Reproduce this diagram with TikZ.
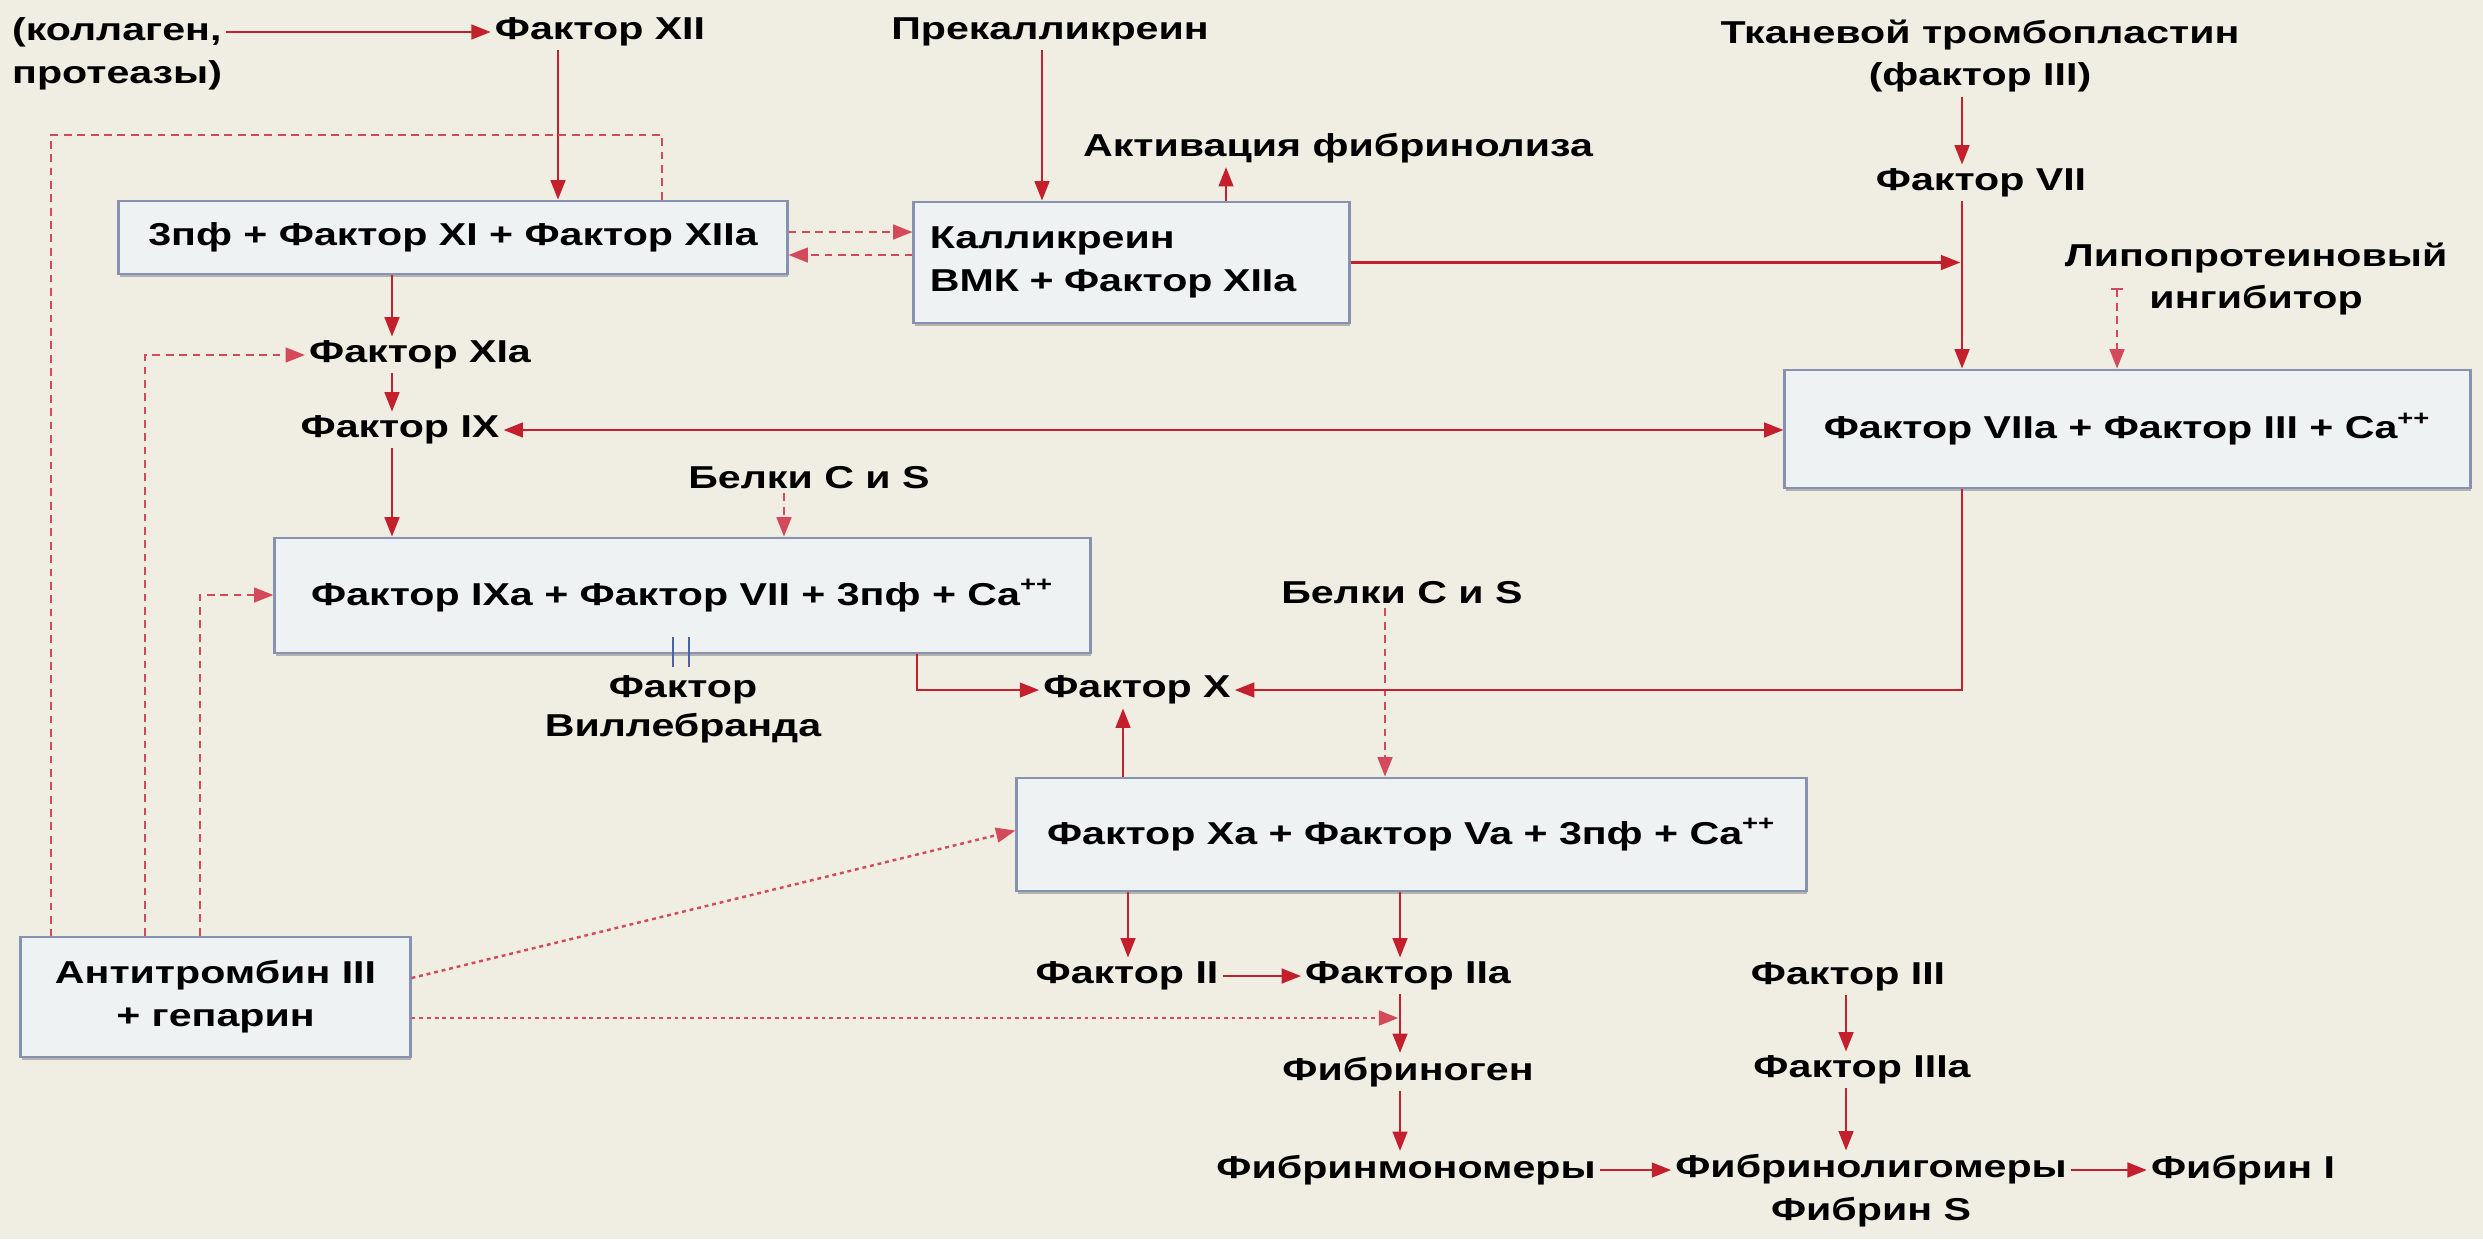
\documentclass[tikz,border=0pt]{standalone}
\usepackage{fontspec}
\setmainfont{Liberation Sans}[FakeStretch=1.3]
\usetikzlibrary{arrows.meta,shadows}
\definecolor{bg}{HTML}{F0EEE2}
\definecolor{rd}{HTML}{C41F2C}
\definecolor{dr}{HTML}{D44A5A}
\definecolor{bc}{HTML}{8792B3}
\definecolor{bf}{HTML}{EEF2F3}
\definecolor{vwb}{HTML}{4A63A8}
\begin{document}
\begin{tikzpicture}[x=0.01cm,y=-0.01cm,
  font=\fontsize{9pt}{12.2pt}\selectfont\bfseries,
  lbl/.style={inner sep=1pt, align=center, text=black},
  bx/.style={draw=bc, fill=bf, line width=0.8pt, inner sep=0pt, align=center,
    drop shadow={shadow xshift=0.3pt, shadow yshift=-0.9pt, fill=black!40, opacity=0.7}},
  tip/.style={-{Triangle[length=5.5pt,width=4.2pt]}},
  arr/.style={draw=rd, line width=0.6pt, tip},
  dsh/.style={draw=dr, line width=0.6pt, dash pattern=on 2.2pt off 1.6pt},
  dsha/.style={dsh, tip},
  dots/.style={draw=dr, line width=0.7pt, dash pattern=on 1.1pt off 1.1pt}]
\fill[bg] (0,0) rectangle (2483,1239);
\useasboundingbox (0,0) rectangle (2483,1239);

% free-standing labels
\node[lbl, anchor=west, align=left] (coll) at (8,54) {(коллаген,\\протеазы)};
\node[lbl] (f12) at (600,32) {Фактор XII};
\node[lbl] (prek) at (1050,32) {Прекалликреин};
\node[lbl] (tkan) at (1980,56) {Тканевой тромбопластин\\(фактор III)};
\node[lbl] (akt) at (1338,148) {Активация фибринолиза};
\node[lbl] (f7) at (1981,183) {Фактор VII};
\node[lbl] (lipo) at (2256,279) {Липопротеиновый\\ингибитор};
\node[lbl] (f11a) at (420,355) {Фактор XIa};
\node[lbl] (f9) at (400,430) {Фактор IX};
\node[lbl] (bel1) at (809,478) {Белки C и S};
\node[lbl] (bel2) at (1402,593) {Белки C и S};
\node[lbl, font=\fontsize{9pt}{11pt}\selectfont\bfseries] (vw) at (683,709) {Фактор\\Виллебранда};
\node[lbl] (f10) at (1137,690) {Фактор X};
\node[lbl] (f2) at (1127,976) {Фактор II};
\node[lbl] (f2a) at (1408,976) {Фактор IIa};
\node[lbl] (f3) at (1848,977) {Фактор III};
\node[lbl] (fbg) at (1408,1072) {Фибриноген};
\node[lbl] (f3a) at (1862,1070) {Фактор IIIa};
\node[lbl] (fmon) at (1406,1170) {Фибринмономеры};
\node[lbl] (folig) at (1871,1191) {Фибринолигомеры\\Фибрин S};
\node[lbl] (fI) at (2243,1170) {Фибрин I};

% complexes
\node[bx, minimum width=6.68cm, minimum height=0.73cm] (B1) at (453,237.5)
  {3пф + Фактор XI + Фактор XIIa};
\node[bx, minimum width=4.35cm, minimum height=1.21cm, text width=4.03cm, align=left] (BK) at (1131.5,262.5)
  {Калликреин\\ВМК + Фактор XIIa};
\node[bx, minimum width=6.85cm, minimum height=1.18cm] (B7) at (2127.5,429)
  {Фактор VIIa + Фактор III + Ca\textsuperscript{++}};
\node[bx, minimum width=8.15cm, minimum height=1.15cm] (B9) at (682.5,595.5)
  {Фактор IXa + Фактор VII + 3пф + Ca\textsuperscript{++}};
\node[bx, minimum width=7.89cm, minimum height=1.13cm] (BX) at (1411.5,834.5)
  {Фактор Xa + Фактор Va + 3пф + Ca\textsuperscript{++}};
\node[bx, minimum width=3.89cm, minimum height=1.20cm] (BA) at (215.5,997)
  {Антитромбин III\\+ гепарин};

% vertical guide positions
\coordinate (xa) at (558,0);
\coordinate (xpk) at (1042,0);
\coordinate (xak) at (1226,0);
\coordinate (x7) at (1962,0);
\coordinate (xl) at (392,0);
\coordinate (xb1) at (784,0);
\coordinate (xb2) at (1385,0);
\coordinate (xb9) at (917,0);
\coordinate (xf10) at (1123,0);
\coordinate (xII) at (1128,0);
\coordinate (xIIa) at (1400,0);
\coordinate (x3) at (1846,0);
\coordinate (lpR) at (662,135);
\coordinate (lpL) at (51,135);
\coordinate (c11) at (145,355);
\coordinate (c9) at (200,595);
\coordinate (lpT) at (2117,288);

% contact pathway
\draw[arr] (f12.west -| coll.east) -- (f12.west);
\draw[arr] (f12.south -| xa) -- (B1.north -| xa);
\draw[arr] (prek.south -| xpk) -- (BK.north -| xpk);
\draw[arr] (BK.north -| xak) -- (akt.south -| xak);
\draw[dsha] ([yshift=0.055cm]B1.east) -- ([yshift=0.055cm]B1.east -| BK.west);
\draw[dsha] ([yshift=-0.175cm]B1.east -| BK.west) -- ([yshift=-0.175cm]B1.east);
\draw[arr, shorten >=0.5pt] (BK.east) -- (BK.east -| x7);
\draw[arr] (B1.south -| xl) -- (f11a.north -| xl);
\draw[arr] (f11a.south -| xl) -- (f9.north -| xl);
\draw[arr] (f9.south -| xl) -- (B9.north -| xl);
\draw[draw=rd, line width=0.6pt, {Triangle[length=5.5pt,width=4.2pt]}-{Triangle[length=5.5pt,width=4.2pt]}]
  (f9.east) -- (f9.east -| B7.west);

% tissue factor pathway
\draw[arr] (tkan.south -| x7) -- (f7.north -| x7);
\draw[arr] (f7.south -| x7) -- (B7.north -| x7);
\draw[dsh, {Bar[width=3.6pt]}-{Triangle[length=5.5pt,width=4.2pt]}] (lpT) -- (lpT |- B7.north);

% protein C and S
\draw[dsha] (bel1.south -| xb1) -- (B9.north -| xb1);
\draw[dsha] (bel2.south -| xb2) -- (BX.north -| xb2);

% von Willebrand factor mark
\draw[vwb, line width=0.5pt] (673,637) -- (673,667) (689,637) -- (689,667);

% factor X
\draw[arr] (B9.south -| xb9) |- (f10.west);
\draw[arr] (B7.south -| x7) |- (f10.east);
\draw[arr] (BX.north -| xf10) -- (f10.south -| xf10);

% common pathway
\draw[arr] (BX.south -| xII) -- (f2.north -| xII);
\draw[arr] (BX.south -| xIIa) -- (f2a.north -| xIIa);
\draw[arr] (f2.east) -- (f2.east -| f2a.west);
\draw[arr] (f2a.south -| xIIa) -- (fbg.north -| xIIa);
\draw[arr] (fbg.south -| xIIa) -- (fmon.north -| xIIa);
\draw[arr] (fmon.east) -- (fmon.east -| folig.west);
\draw[arr] (fI.west -| folig.east) -- (fI.west);
\draw[arr] (f3.south -| x3) -- (f3a.north -| x3);
\draw[arr] (f3a.south -| x3) -- (folig.north -| x3);

% antithrombin III inhibition
\draw[dsh] (B1.north -| lpR) -- (lpR) -- (lpL) -- (BA.north -| lpL);
\draw[dsha] (BA.north -| c11) -- (c11) -- (f11a.west);
\draw[dsha] (BA.north -| c9) -- (c9) -- (c9 -| B9.west);
\draw[dots, tip] ([yshift=0.19cm]BA.east) -- ([yshift=0.04cm]BX.west);
\draw[dots, tip, shorten >=0.5pt] ([yshift=-0.21cm]BA.east) -- ([yshift=-0.21cm]BA.east -| xIIa);
\end{tikzpicture}
\end{document}
